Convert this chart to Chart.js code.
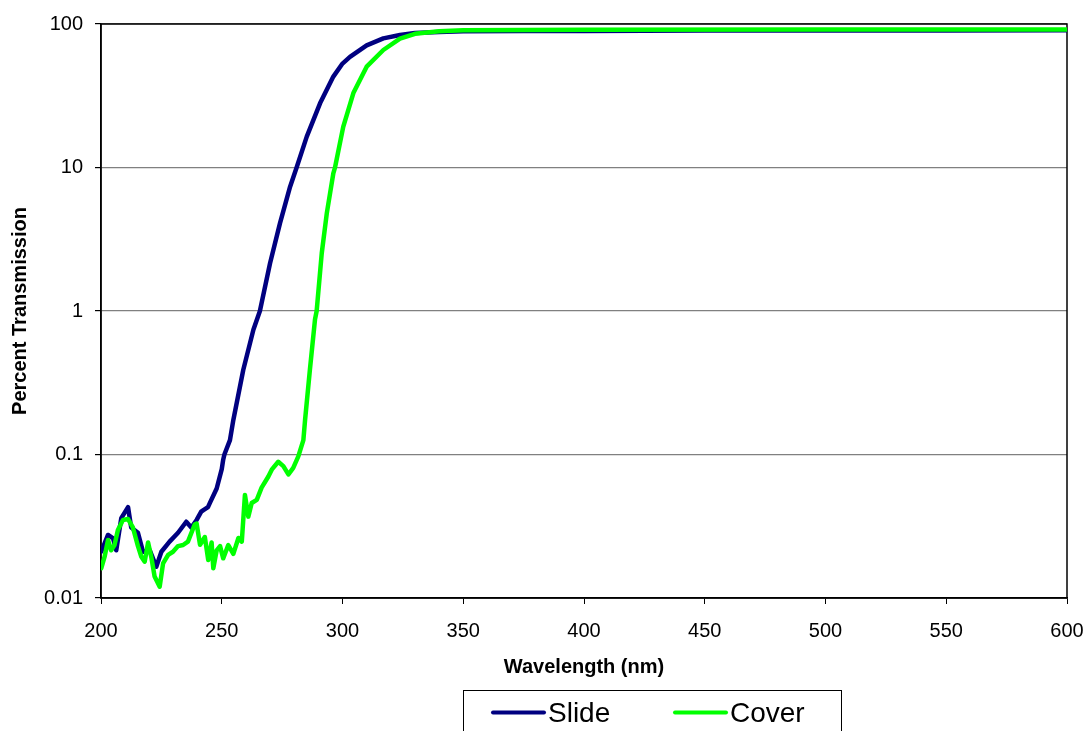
<!DOCTYPE html>
<html>
<head>
<meta charset="utf-8">
<script src="https://cdn.jsdelivr.net/npm/chart.js@4/dist/chart.umd.min.js"></script>
<style>
  html, body { margin: 0; padding: 0; background: #fff; }
  #wrap { width: 1087px; height: 731px; }
</style>
</head>
<body>
<div id="wrap"><canvas id="transChart" width="1087" height="731"></canvas></div>
<script>
// wavelength (nm) and percent transmission
var slideNm = [200.1, 202.9, 205.0, 206.3, 208.4, 211.2, 212.5, 215.3, 217.4, 220.2,
  222.9, 225.0, 228.4, 231.9, 235.3, 237.4, 239.6, 241.5, 242.4, 244.3,
  245.1, 247.9, 250.0, 250.6, 251.1, 253.4, 254.8, 258.9, 263.1, 265.8,
  270.0, 274.1, 278.3, 281.0, 285.2, 290.7, 296.2, 300.0, 303.1, 310.0,
  316.9, 323.8, 330, 340, 350, 375, 400, 450, 500, 550, 600];
var slideT = [0.021, 0.0275, 0.026, 0.0215, 0.036, 0.043, 0.031, 0.0285, 0.021, 0.0215,
  0.0165, 0.021, 0.0247, 0.0285, 0.034, 0.031, 0.035, 0.040, 0.041, 0.043,
  0.046, 0.058, 0.079, 0.092, 0.1, 0.126, 0.174, 0.388, 0.74, 1.0,
  2.15, 4.08, 7.35, 10, 16.4, 28, 43, 53, 59, 71,
  79.4, 83.8, 86.5, 88, 89, 89.5, 89.5, 90, 90, 90.2, 90.5];

var coverNm = [200.1, 201.5, 202.9, 204.2, 205.6, 207.0, 209.1, 211.2, 213.2, 215.3,
  216.7, 218.1, 219.5, 220.8, 222.2, 224.3, 225.7, 227.8, 229.8, 231.9,
  234.0, 236.0, 238.8, 239.6, 241.0, 243.0, 244.4, 245.8, 246.5, 247.9,
  249.3, 250.6, 252.7, 254.8, 256.9, 258.3, 259.6, 261.0, 262.4, 264.5,
  266.5, 269.3, 270.7, 273.4, 275.5, 277.6, 279.6, 281.7, 283.8, 284.5,
  286.5, 288.6, 289.3, 291.4, 293.5, 296.2, 296.9, 300.3, 304.5, 310.0,
  316.9, 323.8, 330, 340, 350, 375, 400, 500, 600];
var coverT = [0.0161, 0.0194, 0.0254, 0.0215, 0.0234, 0.0298, 0.035, 0.0355, 0.031, 0.023,
  0.0194, 0.0179, 0.0244, 0.0194, 0.0141, 0.012, 0.0174, 0.020, 0.021, 0.023,
  0.0234, 0.0247, 0.0325, 0.033, 0.0235, 0.0266, 0.0184, 0.0244, 0.0161, 0.0215,
  0.023, 0.0189, 0.0234, 0.0203, 0.0262, 0.0247, 0.0523, 0.0369, 0.0459, 0.0483,
  0.0588, 0.0703, 0.0784, 0.089, 0.083, 0.0726, 0.0807, 0.097, 0.126, 0.174,
  0.39, 0.87, 1.0, 2.52, 4.8, 9.1, 10, 19.2, 33, 50.4,
  65.9, 79, 85.5, 89, 90.5, 91, 91.3, 91.5, 91.5];

var yTicks = [0.01, 0.1, 1, 10, 100];
var yTickLabels = ['0.01', '0.1', '1', '10', '100'];
var seriesNames = ['Slide', 'Cover'];

function toPoints(xs, ys) {
  var pts = [];
  for (var i = 0; i < xs.length; i++) {
    pts.push({x: xs[i], y: ys[i]});
  }
  return pts;
}

// black frame round the plot area
var frame = {
  id: 'frame',
  beforeDatasetsDraw: function(chart) {
    var a = chart.chartArea, ctx = chart.ctx;
    ctx.save();
    ctx.strokeStyle = '#000';
    ctx.lineWidth = 1.5;
    ctx.strokeRect(a.left, a.top, a.right - a.left, a.bottom - a.top);
    ctx.restore();
  }
};

// legend box at the bottom, partly cut off like the original
var boxLegend = {
  id: 'boxLegend',
  afterDraw: function(chart) {
    var ctx = chart.ctx;
    var sets = chart.data.datasets;
    ctx.save();
    ctx.fillStyle = '#fff';
    ctx.fillRect(463.5, 690.5, 378, 60);
    ctx.strokeStyle = '#000';
    ctx.lineWidth = 1;
    ctx.strokeRect(463.5, 690.5, 378, 60);
    ctx.font = '28px "Liberation Sans", Arial, sans-serif';
    ctx.textBaseline = 'middle';
    var lineX = [493, 675];
    for (var i = 0; i < sets.length; i++) {
      ctx.strokeStyle = sets[i].borderColor;
      ctx.lineWidth = 4;
      ctx.lineCap = 'round';
      ctx.beginPath();
      ctx.moveTo(lineX[i], 712.5);
      ctx.lineTo(lineX[i] + 51, 712.5);
      ctx.stroke();
      ctx.fillStyle = '#000';
      ctx.fillText(sets[i].label, lineX[i] + 55, 714);
    }
    ctx.restore();
  }
};

var transCanv = document.getElementById('transChart');

var transPlot = new Chart(transCanv, {
  type: 'line',
  data: {
    datasets: [{
      label: seriesNames[0],
      borderColor: '#000080',
      data: toPoints(slideNm, slideT),
      borderWidth: 4.5,
      order: 1
    },
    {
      label: seriesNames[1],
      borderColor: '#00ff00',
      data: toPoints(coverNm, coverT),
      borderWidth: 4.5,
      order: 0
    }]
  },
  options: {
    responsive: false,
    animation: false,
    parsing: false,
    layout: { padding: { left: 0, top: 24, right: 20, bottom: 0 } },
    elements: {
      point: { radius: 0 },
      line: { tension: 0, borderJoinStyle: 'round', borderCapStyle: 'round' }
    },
    plugins: {
      legend: { display: false },
      tooltip: { enabled: false }
    },
    scales: {
      x: {
        type: 'linear',
        min: 200,
        max: 600,
        afterFit: function(scale) {
          scale.height = 133;
          scale.paddingLeft = 0;
          scale.paddingRight = 0;
        },
        ticks: {
          stepSize: 50,
          color: '#000',
          padding: 15,
          maxRotation: 0,
          font: { family: '"Liberation Sans", Arial, sans-serif', size: 20 }
        },
        grid: {
          drawOnChartArea: false,
          drawTicks: true,
          tickLength: 6,
          tickColor: '#000'
        },
        border: { display: true, color: '#000', width: 1.5 },
        title: {
          display: true,
          text: 'Wavelength (nm)',
          color: '#000',
          padding: { top: 0, bottom: 52 },
          font: { family: '"Liberation Sans", Arial, sans-serif', size: 20, weight: 'bold' }
        }
      },
      y: {
        type: 'logarithmic',
        min: 0.01,
        max: 100,
        afterFit: function(scale) {
          scale.width = 101;
          scale.paddingTop = 0;
          scale.paddingBottom = 0;
        },
        afterBuildTicks: function(scale) {
          scale.ticks = yTicks.map(function(v) { return {value: v}; });
        },
        ticks: {
          color: '#000',
          padding: 12,
          font: { family: '"Liberation Sans", Arial, sans-serif', size: 20 },
          callback: function(value, index) { return yTickLabels[index]; }
        },
        grid: {
          color: '#808080',
          lineWidth: 1.2,
          drawTicks: true,
          tickLength: 6,
          tickColor: '#000'
        },
        border: { display: true, color: '#000', width: 1.5 },
        title: {
          display: true,
          text: 'Percent Transmission',
          color: '#000',
          padding: { top: 8, bottom: 0 },
          font: { family: '"Liberation Sans", Arial, sans-serif', size: 20, weight: 'bold' }
        }
      }
    }
  },
  plugins: [frame, boxLegend]
});
</script>
</body>
</html>
